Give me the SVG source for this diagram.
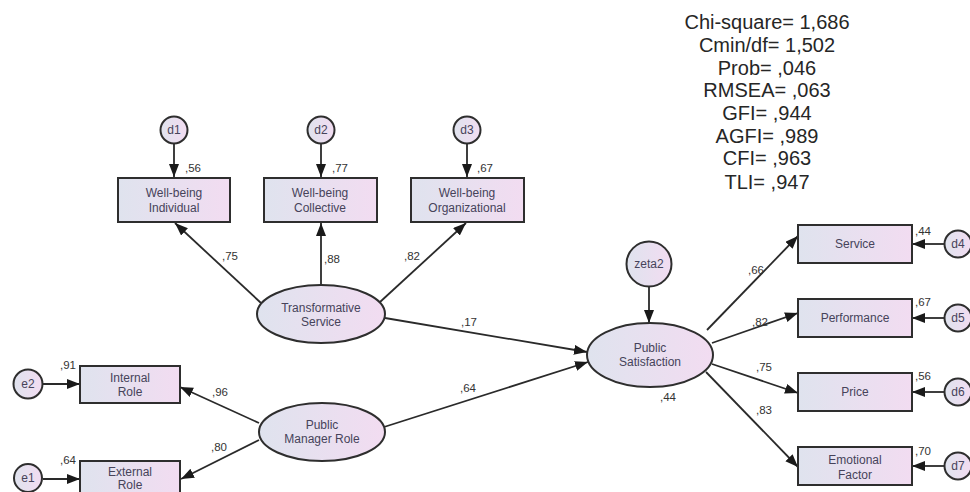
<svg xmlns="http://www.w3.org/2000/svg" width="970" height="492" viewBox="0 0 970 492">
<defs>
<linearGradient id="g" x1="0" y1="0" x2="1" y2="0">
<stop offset="0" stop-color="#dfe3ee"/>
<stop offset="1" stop-color="#f2dcf1"/>
</linearGradient>
<marker id="ah" markerUnits="userSpaceOnUse" markerWidth="14" markerHeight="11" refX="13" refY="5" orient="auto">
<path d="M0,0 L13,5 L0,10 z" fill="#1a1a1a"/>
</marker>
</defs>
<style>
.n{fill:url(#g);stroke:#2e2e2e;stroke-width:2}
.t{font-family:"Liberation Sans",Arial,sans-serif;font-size:12px;fill:#46435a;text-anchor:middle}
.l{font-family:"Liberation Sans",Arial,sans-serif;font-size:11.5px;fill:#333}
.s{font-family:"Liberation Sans",Arial,sans-serif;font-size:20px;fill:#262626;text-anchor:middle}
.e{fill:none;stroke:#2a2a2a;stroke-width:1.8;marker-end:url(#ah)}
</style>
<rect width="970" height="492" fill="#ffffff"/>

<g id="fit-stats">
<text class="s" x="767" y="29">Chi-square= 1,686</text>
<text class="s" x="767" y="52">Cmin/df= 1,502</text>
<text class="s" x="767" y="75">Prob= ,046</text>
<text class="s" x="767" y="97">RMSEA= ,063</text>
<text class="s" x="767" y="120">GFI= ,944</text>
<text class="s" x="767" y="143">AGFI= ,989</text>
<text class="s" x="767" y="165">CFI= ,963</text>
<text class="s" x="767" y="189">TLI= ,947</text>
</g>

<g id="connectors">
<line class="e" x1="174" y1="144" x2="174" y2="177"/>
<line class="e" x1="321" y1="144" x2="321" y2="177"/>
<line class="e" x1="467" y1="144" x2="467" y2="177"/>
<line class="e" x1="261" y1="303" x2="175" y2="223"/>
<line class="e" x1="321" y1="285" x2="321" y2="223"/>
<line class="e" x1="380" y1="302" x2="466" y2="223"/>
<line class="e" x1="385" y1="318" x2="587" y2="352"/>
<line class="e" x1="384" y1="427" x2="588" y2="362"/>
<line class="e" x1="649" y1="287" x2="649" y2="323"/>
<line class="e" x1="707" y1="330" x2="798" y2="236"/>
<line class="e" x1="712" y1="343" x2="798" y2="313"/>
<line class="e" x1="712" y1="364" x2="798" y2="393"/>
<line class="e" x1="706" y1="372" x2="798" y2="467"/>
<line class="e" x1="944" y1="244" x2="912" y2="244"/>
<line class="e" x1="944" y1="318" x2="912" y2="318"/>
<line class="e" x1="944" y1="392" x2="912" y2="392"/>
<line class="e" x1="944" y1="466" x2="912" y2="466"/>
<line class="e" x1="43" y1="384" x2="80" y2="384"/>
<line class="e" x1="43" y1="479" x2="80" y2="479"/>
<line class="e" x1="259" y1="423" x2="180" y2="387"/>
<line class="e" x1="259" y1="440" x2="181" y2="479"/>
</g>

<g id="labels">
<text class="l" x="185" y="172">,56</text>
<text class="l" x="332" y="172">,77</text>
<text class="l" x="477" y="172">,67</text>
<text class="l" x="222" y="260">,75</text>
<text class="l" x="324" y="263">,88</text>
<text class="l" x="404" y="260">,82</text>
<text class="l" x="461" y="326">,17</text>
<text class="l" x="460" y="392">,64</text>
<text class="l" x="748" y="274">,66</text>
<text class="l" x="752" y="326">,82</text>
<text class="l" x="756" y="371">,75</text>
<text class="l" x="756" y="414">,83</text>
<text class="l" x="660" y="401">,44</text>
<text class="l" x="915" y="235">,44</text>
<text class="l" x="915" y="306">,67</text>
<text class="l" x="915" y="380">,56</text>
<text class="l" x="915" y="455">,70</text>
<text class="l" x="60" y="369">,91</text>
<text class="l" x="212" y="396">,96</text>
<text class="l" x="211" y="451">,80</text>
<text class="l" x="60" y="464">,64</text>
</g>

<g id="d1"><circle class="n" cx="174" cy="130" r="13.5"/><text class="t" x="174" y="134">d1</text></g>
<g id="d2"><circle class="n" cx="321" cy="130" r="13.5"/><text class="t" x="321" y="134">d2</text></g>
<g id="d3"><circle class="n" cx="467" cy="130" r="13.5"/><text class="t" x="467" y="134">d3</text></g>

<g id="wb-individual"><rect class="n" x="118" y="178" width="112" height="44"/><text class="t" x="174" y="197">Well-being</text><text class="t" x="174" y="212">Individual</text></g>
<g id="wb-collective"><rect class="n" x="264" y="178" width="113" height="44"/><text class="t" x="320" y="197">Well-being</text><text class="t" x="320" y="212">Collective</text></g>
<g id="wb-organizational"><rect class="n" x="411" y="178" width="113" height="44"/><text class="t" x="467" y="197">Well-being</text><text class="t" x="467" y="212">Organizational</text></g>

<g id="transformative-service"><ellipse class="n" cx="321" cy="314" rx="64" ry="29"/><text class="t" x="321" y="312">Transformative</text><text class="t" x="321" y="326">Service</text></g>

<g id="zeta2"><circle class="n" cx="649" cy="264" r="22.5"/><text class="t" x="649" y="268">zeta2</text></g>

<g id="public-satisfaction"><ellipse class="n" cx="650" cy="355" rx="63" ry="32"/><text class="t" x="650" y="352">Public</text><text class="t" x="650" y="366">Satisfaction</text></g>

<g id="public-manager-role"><ellipse class="n" cx="322" cy="432" rx="63" ry="29"/><text class="t" x="322" y="429">Public</text><text class="t" x="322" y="443">Manager Role</text></g>

<g id="internal-role"><rect class="n" x="80" y="366" width="100" height="37"/><text class="t" x="130" y="382">Internal</text><text class="t" x="130" y="396">Role</text></g>
<g id="external-role"><rect class="n" x="80" y="461" width="100" height="37"/><text class="t" x="130" y="476">External</text><text class="t" x="130" y="489">Role</text></g>

<g id="e2"><circle class="n" cx="28" cy="384" r="14.5"/><text class="t" x="28" y="388">e2</text></g>
<g id="e1"><circle class="n" cx="28" cy="478" r="14"/><text class="t" x="28" y="482">e1</text></g>

<g id="service"><rect class="n" x="798" y="225" width="114" height="38"/><text class="t" x="855" y="248">Service</text></g>
<g id="performance"><rect class="n" x="798" y="299" width="114" height="38"/><text class="t" x="855" y="322">Performance</text></g>
<g id="price"><rect class="n" x="798" y="373" width="114" height="38"/><text class="t" x="855" y="396">Price</text></g>
<g id="emotional-factor"><rect class="n" x="798" y="447" width="114" height="38"/><text class="t" x="855" y="464">Emotional</text><text class="t" x="855" y="479">Factor</text></g>

<g id="d4"><circle class="n" cx="958" cy="244" r="13.5"/><text class="t" x="958" y="248">d4</text></g>
<g id="d5"><circle class="n" cx="958" cy="318" r="13.5"/><text class="t" x="958" y="322">d5</text></g>
<g id="d6"><circle class="n" cx="958" cy="392" r="13.5"/><text class="t" x="958" y="396">d6</text></g>
<g id="d7"><circle class="n" cx="958" cy="466" r="13.5"/><text class="t" x="958" y="470">d7</text></g>
</svg>
